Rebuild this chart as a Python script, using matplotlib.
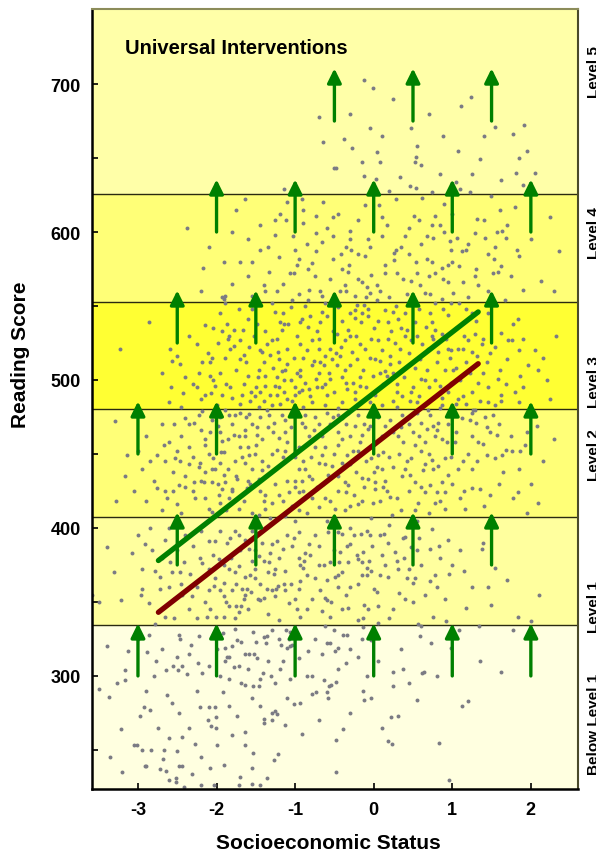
import matplotlib
matplotlib.use('Agg')
import matplotlib.pyplot as plt
import numpy as np

plt.rcParams['font.family'] = ['Liberation Sans', 'DejaVu Sans']
plt.rcParams['font.weight'] = 'bold'

# PISA proficiency level cut points and band colours
level_cuts = [223.6, 334.75, 407.47, 480.18, 552.89, 625.61, 750.7]
band_colors = ['#FFFFE0', '#FFFF9E', '#FFFF77', '#FFFF33', '#FFFF77', '#FFFFA8']
level_names = ['Below Level 1', 'Level 1', 'Level 2', 'Level 3', 'Level 4', 'Level 5']
level_label_y = [268, 347, 450, 499, 600, 709]

# gradient lines (before / after intervention)
grad_x = [-2.74, 1.33]
before_y = [343, 511]
after_y = [378, 546]

# arrows: start score of each row and the SES positions in that row
arrow_rows = [300, 375, 450, 525, 600, 675]
arrow_xs = [[-3, -2, -1, 0, 1, 2],
            [-2.5, -1.5, -0.5, 0.5, 1.5],
            [-3, -2, -1, 0, 1, 2],
            [-2.5, -1.5, -0.5, 0.5, 1.5],
            [-2, -1, 0, 1, 2],
            [-0.5, 0.5, 1.5]]
arrow_len = 35.5

# students (SES, reading score)
top_pts = [(-0.69,678),(-0.65,661),(-0.51,643),(-1.14,629),(-1.64,622),(-2.37,603),(-1.80,600),
 (-0.91,622),(-0.90,615),(-1.19,612),(-1.26,608),(-1.12,608),(-0.90,606),(-0.74,611),(-0.52,610),
 (-1.03,597),(-0.74,599),(-0.66,593),(-0.52,597),(-0.74,587),(-0.95,582),(-0.79,579),(-0.98,578),
 (-0.52,582),(-1.55,580),(-2.17,576),
 (-0.125,703),(-0.015,697),(1.232,691),(1.109,685),(0.473,670),(0.884,665),(1.542,671),(1.775,666),
 (1.919,672),(-0.375,663),(-0.282,657),(0.036,654),(-0.146,647),(0.083,647),(0.545,658),(0.532,651),
 (0.524,647),(1.079,655),(1.359,649),(1.843,650),(1.817,640),(-0.477,643),(-0.125,638),(0.023,636),
 (0.341,637),(0.85,639),(1.257,639),(1.618,635),(1.902,632),(0.464,631),(0.532,630),(1.045,634),
 (1.1,629),(0.74,627),(1.224,627),(0.201,628),(1.49,624),(0.282,622),(0.609,623),(0.893,619),
 (-0.108,618),(0.062,618),(1.796,617),(1.601,615),(1.321,609),(0.519,611),(0.778,611),(0.579,608),
 (0.172,605),(0.448,603),(0.74,605),(0.897,600),(-0.307,601),(-0.303,595),(-0.07,595),(0.112,597),
 (0.397,597),(0.681,597),(0.753,596),(0.969,594),(1.062,596),(1.295,599),(1.418,596),(1.571,600),
 (1.635,601),(1.682,596),(-0.295,588),(-0.422,585),(-0.112,584),(0.282,588),(0.261,586),(0.257,581),
 (0.532,580),(0.677,582),(0.736,580),(0.982,588),(1.118,587),(1.173,588),(1.453,585),(1.525,582),
 (1.822,588),(1.843,584),(2.364,587),(-0.32,578),(0.138,578),(0.94,578),(1.083,577),(0.863,576),
 (1.622,577),
 (-1.337,573),(-1.062,572),(-1.011,572),(-0.837,575),(-1.401,564),(-1.38,560),(-1.231,560),
 (-1.04,554),(-0.837,554),(-0.82,561),(-0.68,560),(-0.659,557),(-1.897,557),(-1.931,556),
 (-1.897,552),(-1.549,548),
 (-0.324,573),(-0.197,568),(-0.155,566),(-0.028,571),(0.036,564),(0.079,560),(-0.049,559),
 (-0.091,563),(-0.367,564),(-0.43,560),(-0.24,557),(-0.218,551),(0.291,572),(0.375,568),(0.473,567),
 (0.587,564),(0.651,559),(0.715,558),(0.778,572),(0.884,568),(1.012,559),(1.139,566),(1.33,564),
 (1.287,570),(1.52,572),(1.584,573),(1.665,554),(1.902,561),(2.135,567),(0.418,558),(0.863,555),
 (0.99,552),(0.778,552),
 (-2.1,590),(-1.9,580),(-1.75,615),(-1.6,595),(-1.45,605),(-1.35,590),(-1.2,583),(-1.1,620),
 (-0.85,592),(-0.65,620),(-0.6,603),(-0.45,612),(-0.35,590),(-0.2,608),(-0.05,590),(0.1,610),
 (0.35,590),(0.6,592),(0.85,605),(1.0,612),(1.2,592),(1.4,608),(1.55,590),(1.7,605),(2.0,595),
 (2.25,610),(-2.2,560),(-1.8,565),(-1.6,570),(-1.15,565),(-0.95,558),(-0.55,568),(-0.5,556),
 (-0.1,556),(0.2,556),(0.55,572),(0.95,566),(1.2,556),(1.45,560),(1.75,570),(2.3,560),
 (-0.3,680),(0.25,690),(0.7,680),(1.4,665),(1.95,655),(0.1,665),(-0.05,670),(2.05,640),(0.6,645),
 (-1.7,580),(-1.45,588),(-1.25,598),(-1.0,588),(-0.75,570),(-0.4,575),(-0.2,585),(0.15,572),
 (0.45,585),(0.7,570),(1.0,580),(1.3,575)]

mid_pts = [(-2.864,539),(-3.233,521),(-2.588,521),(-2.504,516),(-2.567,513),(-2.47,511),(-2.58,495),
 (-2.432,491),(-1.931,533),(-1.867,538),(-1.846,530),(-1.783,534),(-1.668,534),(-1.834,521),
 (-1.783,523),(-1.889,515),(-2.109,518),(-2.058,515),(-2.185,512),(-2.079,512),(-2.219,505),
 (-2.079,503),(-1.825,495),(-2.016,496),(-2.067,491),(-1.931,490),(-1.698,514),(-1.655,517),
 (-1.583,522),(-1.422,519),(-1.359,524),(-1.295,527),(-1.231,528),(-1.223,519),(-1.202,514),
 (-1.38,533),(-1.189,539),(-1.147,538),(-1.091,538),(-1.168,534),(-0.935,539),(-0.913,541),
 (-0.807,543),(-0.68,539),(-0.595,543),(-0.659,546),(-0.837,536),(-0.693,528),(-0.935,524),
 (-0.701,521),(-0.616,516),(-0.553,521),(-0.532,514),(-0.765,513),(-0.786,510),(-0.638,510),
 (-0.574,505),(-0.553,501),(-0.616,497),(-0.659,495),(-0.735,501),(-0.723,495),(-0.807,489),
 (-0.786,485),(-0.935,507),(-0.935,503),(-0.998,495),(-0.956,492),(-0.913,493),(-1.04,486),
 (-1.125,507),(-1.168,506),(-1.147,500),(-1.231,502),(-1.38,503),(-1.473,502),(-1.465,507),
 (-1.38,496),(-1.507,489),(-1.558,492),(-1.655,497),(-1.57,486),(-1.231,490),(-1.147,492),
 (-1.104,487),(-1.189,484),(-1.465,482),(-1.295,483),(-1.889,480),
 (-0.409,540),(-0.324,534),(-0.303,530),(-0.367,527),(-0.43,516),(-0.473,510),(-0.367,507),
 (-0.24,542),(-0.163,539),(-0.07,543),(-0.028,528),(0.049,527),(-0.112,521),(-0.218,514),
 (-0.134,507),(-0.261,498),(-0.176,496),(-0.346,494),(-0.24,487),(-0.409,485),(-0.007,503),
 (0.015,514),(0.079,513),(0.142,547),(0.185,539),(0.248,546),(0.303,541),(0.27,525),(0.333,521),
 (0.206,516),(0.206,511),(0.142,506),(0.163,503),(0.291,497),(0.354,489),(0.248,486),(0.418,534),
 (0.397,530),(0.473,527),(0.524,539),(0.587,514),(0.672,507),(0.608,501),(0.503,495),(0.46,486),
 (0.545,485),(0.736,539),(0.778,534),(0.863,531),(0.736,530),(0.693,521),(0.821,519),(0.948,521),
 (0.969,515),(0.906,507),(1.012,507),(0.99,498),(0.863,488),(1.075,487),(1.139,489),(1.075,521),
 (1.139,521),(1.245,519),(1.202,527),(1.287,531),(1.372,524),(1.393,528),(1.478,518),(1.436,512),
 (1.393,505),(1.33,498),(1.245,492),(1.351,486),(1.457,485),(1.542,483),(1.605,507),(1.584,501),
 (1.618,490),(1.711,527),(1.754,527),(1.775,538),(1.839,541),(1.796,492),(1.847,485),(1.966,510),
 (2.093,507),(1.86,503),(2.326,530),(0.036,554),(-0.07,548),(-0.24,547),(-0.473,531),(-0.24,492),
 (0.1,483),(0.693,480),(0.863,483),(1.266,480),
 (-1.95,545),(-1.72,548),(-1.6,541),(-1.48,538),(-1.25,546),(-1.05,549),(-0.88,550),(-0.72,533),
 (-0.45,549),(-0.3,545),(-0.12,551),(0.05,540),(0.22,533),(0.4,545),(0.58,548),(0.66,536),
 (0.95,544),(1.05,535),(1.18,548),(1.3,540),(1.45,545),(1.62,532),(1.9,528),(2.05,520),
 (-2.35,530),(-2.25,524),(-2.15,537),(-1.98,525),(-1.7,527),(-1.52,530),(-1.4,512),(-1.32,517),
 (-1.1,521),(-1.02,515),(-0.85,520),(-0.78,527),(-0.52,533),(-0.42,522),(-0.28,519),(-0.18,524),
 (0.1,520),(0.32,512),(0.45,518),(0.62,524),(0.8,512),(0.92,528),(1.18,512),(1.32,516),(1.55,522),
 (1.7,514),(1.85,520),(2.15,515),(-2.7,505),(-2.4,502),(-2.3,497),(-2.15,490),(-1.95,505),
 (-1.75,507),(-1.6,503),(-1.5,495),(-1.32,490),(-1.25,496),(-1.05,500),(-0.98,505),(-0.88,498),
 (-0.7,505),(-0.5,492),(-0.4,502),(-0.3,510),(-0.1,495),(0.02,490),(0.12,497),(0.25,505),(0.38,502),
 (0.52,508),(0.7,495),(0.78,500),(0.95,492),(1.1,500),(1.22,505),(1.45,495),(1.68,497),(1.9,495),
 (2.2,500),(-2.6,485),(-2.45,482),(-2.2,487),(-2.0,483),(-1.8,488),(-1.7,484),(-1.4,486),(-0.9,482),
 (-0.62,483),(-0.45,481),(-0.05,485),(0.3,482),(0.58,489),(0.85,481),(1.05,484),(1.62,486),(2.25,487),
 (-1.9,555),(-1.55,557),(-1.3,552),(-1.15,545),(-0.98,530),(-0.62,552),(-0.35,560),(-0.15,545),
 (0.0,535),(0.28,550),(0.5,555),(0.72,545),(0.88,548),(1.08,552),(1.25,545),(-2.05,535),
 (-1.85,528),(-1.62,512),(-1.45,520),(-1.28,508),(-1.1,511),(-0.9,515),(-0.68,512),(-0.48,518),
 (-0.22,530),(-0.05,515),(0.18,528),(0.35,535),(0.55,530),(0.75,528),(0.98,520),(1.15,530),
 (-2.25,495),(-2.05,500),(-1.88,497),(-1.68,490),(-1.45,492),(-1.2,495),(-1.0,490),(-0.82,494),
 (-0.6,490),(-0.35,498),(-0.18,502),(0.08,505),(0.3,492),(0.48,492),(0.65,500),(0.85,496),(1.05,508),
 (-3.288,472),(-3.14,449),(-2.949,440),(-3.161,435),(-2.8,432),(-3.28,418),(-2.758,449),(-2.673,456),
 (-2.652,445),(-2.546,470),(-2.525,447),(-2.461,445),(-2.398,474),(-2.292,471),(-2.228,476),
 (-2.185,479),(-2.079,465),(-2.143,456),(-2.058,440),(-2.207,444),(-2.228,441),(-2.758,427),
 (-2.652,425),(-2.482,429),(-2.398,435),(-2.292,431),(-2.164,431),(-2.631,420),(-2.504,416),
 (-2.271,420),(-2.101,413),(-2.058,411),(-2.016,440),(-1.952,444),(-1.939,451),(-1.91,451),
 (-1.931,459),(-1.982,469),(-2.058,473),(-1.846,476),(-1.783,463),(-1.719,462),(-1.634,462),
 (-1.761,476),(-1.698,478),(-1.592,477),(-1.634,466),(-1.486,463),(-1.422,460),(-1.359,480),
 (-1.337,476),(-1.274,471),(-1.168,476),(-1.125,473),(-1.125,465),(-1.231,453),(-1.125,452),
 (-0.913,471),(-0.871,468),(-0.829,462),(-0.765,466),(-0.659,462),(-0.553,470),(-0.616,455),
 (-0.659,449),(-0.701,444),(-0.616,443),(-0.532,442),(-0.829,435),(-0.786,433),(-0.913,432),
 (-0.998,432),(-0.871,440),(-1.083,424),(-0.956,424),(-0.786,420),(-0.701,414),(-0.616,420),
 (-1.04,415),(-0.956,412),(-1.125,408),(-1.592,449),(-1.507,450),(-1.634,444),(-1.549,440),
 (-1.422,439),(-1.465,433),(-1.57,430),(-1.613,427),(-1.761,445),(-1.74,433),(-1.804,426),
 (-1.889,431),(-1.931,426),(-1.846,420),(-1.719,413),(-1.973,422),(-1.952,417),(-2.058,431),
 (-1.38,422),(-1.295,417),(-1.21,422),(-1.38,413),(-1.465,409),(-1.316,407),
 (-0.452,476),(-0.409,474),(-0.324,478),(-0.24,469),(-0.155,463),(-0.07,467),(-0.049,469),
 (-0.176,458),(-0.261,452),(-0.452,456),(-0.409,460),(-0.346,449),(-0.409,440),(-0.452,435),
 (-0.367,431),(-0.324,429),(-0.155,434),(-0.07,433),(0.015,431),(0.036,441),(0.142,432),(0.163,425),
 (0.206,421),(0.015,426),(-0.007,417),(-0.197,416),(-0.303,415),(-0.367,412),(-0.494,413),
 (-0.028,407),(0.227,409),(0.142,469),(0.206,473),(0.354,476),(0.418,474),(0.312,462),(0.375,458),
 (0.503,465),(0.524,456),(0.481,447),(0.248,441),(0.354,435),(0.46,436),(0.524,431),(0.63,439),
 (0.651,443),(0.736,446),(0.757,440),(0.715,429),(0.863,431),(0.651,424),(0.566,417),(0.778,417),
 (0.906,424),(0.906,413),(1.096,420),(1.16,413),(1.245,427),(1.351,426),(1.478,422),(1.839,424),
 (1.775,420),(2.093,417),(0.608,471),(0.715,476),(0.757,469),(0.778,462),(0.863,460),(0.927,458),
 (0.821,471),(0.651,458),(0.906,447),(0.99,448),(1.075,440),(1.139,445),(1.224,473),(1.245,478),
 (1.287,480),(1.414,475),(1.52,476),(1.436,468),(1.478,465),(1.563,463),(1.245,462),(1.33,458),
 (1.393,457),(1.436,449),(1.542,447),(1.627,449),(1.69,453),(1.754,452),(1.86,452),(1.923,456),
 (2.072,469),(1.118,474),(1.181,484),(1.033,458),(0.121,451),(-0.028,447),(0.057,449),
 (-2.9,462),(-2.7,470),(-2.6,458),(-2.45,462),(-2.35,455),(-2.2,466),(-2.1,450),(-1.95,475),
 (-1.85,460),(-1.7,455),(-1.55,470),(-1.45,475),(-1.35,468),(-1.2,461),(-1.05,468),(-0.95,455),
 (-0.75,475),(-0.6,478),(-0.45,465),(-0.35,470),(-0.2,476),(-0.05,455),(0.05,475),(0.25,465),
 (0.45,470),(0.55,478),(0.68,467),(0.95,470),(1.05,465),(1.3,471),(1.6,470),(1.75,462),(1.95,465),
 (2.15,445),(2.3,460),(-3.0,452),(-2.85,445),(-2.55,438),(-2.35,443),(-2.05,447),(-1.85,440),
 (-1.75,435),(-1.6,455),(-1.42,445),(-1.3,450),(-1.18,443),(-1.0,448),(-0.9,445),(-0.75,455),
 (-0.5,450),(-0.3,443),(-0.22,438),(-0.1,445),(0.1,440),(0.32,450),(0.42,445),(0.6,452),(0.82,442),
 (1.2,450),(1.32,445),(1.65,438),(1.85,440),(2.0,430),(-3.05,425),(-2.9,418),(-2.7,412),(-2.55,425),
 (-2.45,410),(-2.3,425),(-2.15,420),(-1.98,430),(-1.88,412),(-1.65,418),(-1.55,410),(-1.45,425),
 (-1.25,430),(-1.15,418),(-1.0,428),(-0.85,410),(-0.65,430),(-0.45,425),(-0.25,422),(-0.12,428),
 (0.08,418),(0.3,420),(0.45,425),(0.52,412),(0.7,410),(0.85,418),(1.0,430),(1.15,425),(1.4,415),
 (1.6,430),(1.95,410),
 (-2.35,470),(-2.15,460),(-1.95,465),(-1.8,470),(-1.62,475),(-1.48,468),(-1.28,465),(-1.1,458),
 (-0.88,476),(-0.7,470),(-0.52,475),(-0.3,462),(-0.12,470),(0.1,462),(0.35,468),(0.58,462),
 (0.8,466),(1.0,475),(-2.5,452),(-2.3,448),(-2.15,438),(-1.9,436),(-1.68,448),(-1.5,456),
 (-1.35,442),(-1.15,448),(-0.95,440),(-0.8,448),(-0.58,436),(-0.4,444),(-0.2,452),(0.0,438),
 (0.2,448),(0.4,440),(0.7,450),(0.95,436),(1.25,440),(-2.4,428),(-2.2,432),(-1.8,425),(-1.6,432),
 (-1.4,418),(-1.1,432),(-0.9,425),(-0.72,428),(-0.55,418),(-0.35,424),(-0.15,418),(0.12,428),
 (0.35,412),(0.6,428),(0.8,424)]

low_pts = [(-3.394,387),(-3.076,383),(-2.906,389),(-2.822,385),(-2.949,359),(-2.957,355),(-3.212,351),
 (-3.492,350),(-2.864,349),(-2.779,371),(-2.716,367),(-2.724,359),(-2.567,370),(-2.461,370),
 (-2.588,377),(-2.546,352),(-2.652,340),(-2.546,339),(-2.44,355),(-2.419,377),(-2.334,369),
 (-2.313,354),(-2.249,339),(-2.186,376),(-2.207,380),(-2.092,391),(-2.016,391),(-2.08,345),
 (-2.122,340),(-2.008,340),(-1.961,358),(-2.025,366),(-1.91,354),(-1.88,350),(-1.847,347),
 (-1.804,358),(-1.753,347),(-1.762,370),(-1.719,374),(-1.677,359),(-1.643,355),(-1.617,359),
 (-1.566,357),(-1.655,352),(-1.719,343),(-1.762,339),(-1.473,352),(-1.443,351),(-1.359,359),
 (-1.295,358),(-1.24,359),(-1.261,372),(-1.274,369),(-1.325,383),(-1.295,389),(-1.232,391),
 (-1.125,371),(-1.147,362),(-1.134,358),(-1.083,349),(-0.977,345),(-0.935,340),(-1.0,352),
 (-0.956,359),(-0.935,364),(-0.943,375),(-0.9,373),(-0.871,383),(-0.807,382),(-0.701,388),
 (-0.752,395),(-0.68,358),(-0.659,344),(-0.616,353),(-0.595,351),(-0.54,350),(-0.829,389),
 (-1.04,388),(-1.019,393),(-0.956,397),(-1.868,390),(-1.826,393),(-1.762,398),(-1.719,395),
 (-1.634,392),(-1.592,386),(-1.516,385),(-1.465,381),(-1.422,390),(-1.337,377),(-1.516,372),
 (-1.57,368),(-1.634,367),(-1.847,372),(-1.91,375),(-1.973,379),(-2.1,372),(-2.037,361),(-1.91,363),
 (-1.685,347),(-1.516,366),(-1.401,353),(-1.261,354),(-1.223,361),(-0.892,378),(-0.956,380),
 (-0.583,397),(-0.553,377),(-0.638,375),
 (-0.452,397),(-0.401,396),(-0.303,389),(-0.346,388),(-0.43,384),(-0.443,377),(-0.324,377),
 (-0.218,382),(-0.206,379),(-0.155,377),(-0.061,378),(-0.163,396),(-0.091,398),(-0.049,395),
 (0.079,395),(0.134,396),(0.397,394),(0.375,393),(0.575,393),(0.481,387),(0.545,385),(0.27,384),
 (0.112,382),(-0.134,384),(0.719,386),(0.825,388),(0.948,392),(0.736,399),(1.393,390),(1.372,386),
 (1.55,373),(-0.083,373),(-0.036,371),(-0.091,368),(0.079,368),(0.176,367),(0.312,372),(0.452,372),
 (0.418,366),(0.524,366),(0.494,363),(0.715,364),(0.778,368),(0.952,369),(1.152,371),(-0.452,368),
 (-0.494,367),(-0.303,360),(-0.197,362),(0.002,359),(0.045,357),(0.32,356),(0.906,352),(1.173,346),
 (1.499,348),(1.839,340),(2.004,337),(-0.401,345),(-0.329,346),(-0.121,348),(-0.07,345),(0.057,347),
 (-0.197,338),(-0.138,339),(-0.13,333),(0.057,336),(0.197,339),(0.566,335),(0.6,334),(0.922,337),
 (1.083,331),(1.334,334),(1.767,331),(-3.58,355),
 (-3.3,370),(-3.0,395),(-2.95,372),(-2.85,400),(-2.65,392),(-2.5,385),(-2.4,395),(-2.3,388),
 (-2.25,360),(-2.15,350),(-2.05,382),(-1.95,398),(-1.82,380),(-1.7,385),(-1.55,378),(-1.45,362),
 (-1.35,370),(-1.2,380),(-1.1,395),(-1.05,362),(-0.85,368),(-0.78,352),(-0.7,375),(-0.6,365),
 (-0.5,385),(-0.4,370),(-0.25,395),(-0.02,388),(0.18,390),(0.3,378),(0.4,352),(0.6,375),(0.65,355),
 (0.85,380),(1.0,375),(1.1,385),(1.25,360),(1.45,360),(1.7,365),(2.1,355),(-2.6,360),(-2.35,345),
 (-1.9,340),(-1.6,345),(-1.35,342),(-1.2,338),(-0.85,345),(-0.55,340),(-0.35,355),(0.25,345),
 (0.5,350),(0.75,340),
 (-2.6,400),(-2.2,398),(-1.55,398),(-1.0,405),(-0.6,405),(-0.3,400),(0.2,402),(0.55,405),
 (-2.7,380),(-2.45,362),(-2.1,358),(-1.75,362),(-1.4,378),(-1.15,386),(-0.75,366),(-0.45,360),
 (-0.15,368),(0.15,375),(0.38,380),(0.8,360),
 (-2.864,328),(-2.788,335),(-2.474,328),(-2.461,325),(-2.22,327),(-2.33,321),(-3.131,317),
 (-2.885,316),(-2.504,313),(-2.771,310),(-2.55,307),(-2.44,307),(-2.491,304),(-2.644,304),
 (-2.372,301),(-2.236,309),(-2.1,307),(-2.186,302),(-3.169,304),(-3.161,297),(-3.267,295),
 (-3.492,291),(-3.373,286),(-2.627,287),(-2.567,282),(-2.919,279),(-2.843,277),(-2.482,275),
 (-2.97,273),(-2.207,279),(-2.1,279),(-2.016,279),(-3.212,264),(-2.109,270),(-2.008,272),
 (-2.067,266),(-2.012,265),(-2.61,258),(-2.44,259),(-3.055,253),(-3.012,253),(-2.949,250),
 (-2.839,250),(-2.673,250),(-2.504,249),(-2.271,254),(-1.991,253),(-2.682,244),(-2.915,239),
 (-2.894,239),(-2.724,237),(-2.644,236),(-2.474,239),(-2.44,239),(-2.313,234),(-2.08,238),
 (-2.516,231),(-2.52,228),(-2.415,225),(-2.194,226),(-2.037,226),
 (-1.923,329),(-1.889,319),(-1.868,313),(-1.838,313),(-1.897,310),(-1.762,332),(-1.736,324),
 (-1.69,323),(-1.634,315),(-1.592,315),(-1.524,315),(-1.486,312),(-1.541,330),(-1.499,323),
 (-1.401,326),(-1.359,327),(-1.295,331),(-1.368,322),(-1.176,321),(-1.104,319),(-1.062,320),
 (-1.189,305),(-1.303,300),(-1.414,302),(-1.443,298),(-1.532,293),(-1.465,293),(-1.774,306),
 (-1.719,307),(-1.842,298),(-1.69,295),(-1.638,294),(-1.914,289),(-1.847,280),(-1.74,273),
 (-1.643,262),(-1.643,253),(-1.532,248),(-1.55,238),(-1.698,232),(-1.72,226),(-1.55,227),
 (-1.443,226),(-1.401,271),(-1.401,268),(-1.295,275),(-1.253,276),(-1.232,274),(-1.295,270),
 (-1.125,267),(-1.223,247),(-1.274,243),(-1.363,231),(-1.02,281),(-0.935,282),(-0.913,261),
 (-0.85,300),(-0.786,300),(-0.735,289),(-0.786,288),(-0.629,297),(-0.566,293),(-0.591,289),
 (-0.583,285),(-0.54,294),(-0.659,315),(-0.595,322),(-0.553,322),(-0.837,317),(-1.04,321),
 (-1.062,298),(-1.075,325),(-1.121,331),(-1.21,325),(-1.062,330),(-0.616,334),(-0.51,331),
 (-0.388,328),(-0.346,328),(-0.452,319),(-0.494,317),(-0.201,313),(-0.35,309),(-0.028,324),
 (0.592,327),(0.723,322),(0.99,319),(1.355,310),(1.626,303),(-0.091,300),(0.248,303),(0.371,305),
 (0.621,302),(0.642,303),(-0.481,296),(-0.138,290),(-0.125,284),(-0.04,285),(0.244,293),(0.545,284),
 (1.122,280),(1.194,283),(0.218,272),(0.312,273),(-0.396,264),(-0.481,257),(0.185,256),(0.231,254),
 (0.833,255),(-0.481,235),(0.952,230),
 (-3.4,320),(-3.0,325),(-2.8,300),(-2.7,318),(-2.35,315),(-2.25,290),(-2.0,318),(-1.95,300),
 (-1.8,320),(-1.6,305),(-1.55,285),(-1.35,310),(-1.25,295),(-1.15,310),(-0.95,312),(-0.75,325),
 (-0.45,305),(-0.3,318),(-0.15,325),(0.05,310),(0.35,318),(0.45,295),(0.8,300),(-2.9,290),
 (-2.75,265),(-2.35,265),(-2.2,245),(-1.8,260),(-1.45,280),(-1.1,285),(-0.7,270),(-3.35,245),
 (-3.2,235),(-2.6,230),(-1.9,240),(-0.3,275),(0.1,265)]

pts = top_pts + mid_pts + low_pts
ses = [p[0] for p in pts]
score = [p[1] for p in pts]

fig = plt.figure(figsize=(5.96, 8.53), dpi=100)
ax = fig.add_axes([92/596, 63/853, 486/596, 780/853])

for i in range(len(band_colors)):
    ax.axhspan(level_cuts[i], level_cuts[i+1], color=band_colors[i], lw=0, zorder=0)
for c in level_cuts[1:-1]:
    ax.axhline(c, color='#2a2a10', lw=1, zorder=1)

ax.scatter(ses, score, s=8, color='#7b7b84', lw=0, zorder=2)

ax.plot(grad_x, before_y, color='#800000', lw=3.8, solid_capstyle='round', zorder=3)
ax.plot(grad_x, after_y, color='#008000', lw=3.8, solid_capstyle='round', zorder=3)

for y0, xs in zip(arrow_rows, arrow_xs):
    for x in xs:
        ax.annotate('', xy=(x, y0 + arrow_len), xytext=(x, y0),
                    arrowprops=dict(arrowstyle='-|>,head_length=0.85,head_width=0.42',
                                    mutation_scale=10, color='#008000', lw=2.4,
                                    shrinkA=0, shrinkB=0), zorder=4)

ax.text(-3.165, 725, 'Universal Interventions', fontsize=14.5, fontweight='bold', va='center', ha='left')

# level labels just outside the right edge, partly cut by the figure border
for name, y in zip(level_names, level_label_y):
    ax.text(1.0 + 9/486, y, name, transform=ax.get_yaxis_transform(), fontsize=11,
            fontweight='bold', rotation=90, ha='left', va='center', clip_on=False)

ax.set_xlim(-3.585, 2.6)
ax.set_ylim(223.6, 750.7)
ax.set_xticks([-3, -2, -1, 0, 1, 2])
ax.set_xticklabels(['-3', '-2', '-1', '0', '1', '2'])
ax.set_yticks([300, 400, 500, 600, 700])
ax.set_yticks([250, 350, 450, 550, 650], minor=True)
ax.tick_params(axis='both', which='both', direction='in', length=4, width=1.2, labelsize=13)
ax.tick_params(axis='y', pad=8)
ax.tick_params(axis='x', pad=9)
for lab in ax.get_xticklabels() + ax.get_yticklabels():
    lab.set_fontweight('bold')

ax.set_xlabel('Socioeconomic Status', fontsize=15, fontweight='bold')
ax.set_ylabel('Reading Score', fontsize=15, fontweight='bold')
ax.xaxis.set_label_coords(0.486, -0.057)
ax.yaxis.set_label_coords(-0.128, 0.558)

ax.spines['left'].set_linewidth(1.8)
ax.spines['bottom'].set_linewidth(1.8)
ax.spines['top'].set_color('#8c8c5a')
ax.spines['top'].set_linewidth(1.5)
ax.spines['right'].set_color('#4a4a2a')
ax.spines['right'].set_linewidth(1.5)

plt.savefig('out.png', dpi=100)
